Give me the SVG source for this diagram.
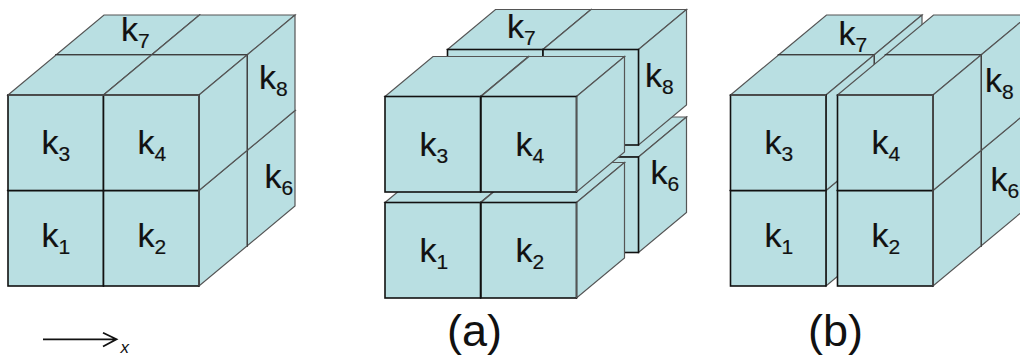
<svg xmlns="http://www.w3.org/2000/svg" xmlns:xlink="http://www.w3.org/1999/xlink" width="1020" height="356" viewBox="0 0 1020 356">
<style>
.s{fill:#b9dfe2;stroke:#555;stroke-width:1.2;stroke-linejoin:miter}
.f{fill:#b9dfe2;stroke:#111;stroke-width:1.6}
.e{fill:none;stroke:#555;stroke-width:1.3}
text{font-family:"Liberation Sans",Arial,sans-serif;fill:#111}
.k{font-size:34px;stroke:#111;stroke-width:.2}
.k tspan{font-size:21px}
.c{font-size:45px}
</style>
<defs>
<g id="cube">
<path class="s" d="M0 0L48 -40H143.5L95.5 0Z"/>
<path class="s" d="M95.5 0L143.5 -40V55.5L95.5 95.5Z"/>
<rect class="f" width="95.5" height="95.5"/>
</g>
</defs>
<rect width="1020" height="356" fill="#fff"/>
<g id="cube-whole">
<use xlink:href="#cube" href="#cube" x="56" y="150.5"/>
<use xlink:href="#cube" href="#cube" x="151.500" y="150.500"/>
<use xlink:href="#cube" href="#cube" x="56" y="55"/>
<use xlink:href="#cube" href="#cube" x="151.500" y="55"/>
<use xlink:href="#cube" href="#cube" x="8" y="190.500"/>
<use xlink:href="#cube" href="#cube" x="103.500" y="190.500"/>
<use xlink:href="#cube" href="#cube" x="8" y="95"/>
<use xlink:href="#cube" href="#cube" x="103.500" y="95"/>
<path class="e" d="M8 95H199V286"/>
<text class="k" x="41.500" y="154">k<tspan dy="7">3</tspan></text>
<text class="k" x="137.500" y="154">k<tspan dy="7">4</tspan></text>
<text class="k" x="41.500" y="247">k<tspan dy="7">1</tspan></text>
<text class="k" x="137.500" y="247">k<tspan dy="7">2</tspan></text>
<text class="k" x="121" y="41">k<tspan dy="7">7</tspan></text>
<text class="k" x="259" y="89">k<tspan dy="7">8</tspan></text>
<text class="k" x="264.500" y="188">k<tspan dy="7">6</tspan></text>
</g>
<g id="cube-a">
<use xlink:href="#cube" href="#cube" x="447.500" y="157"/>
<use xlink:href="#cube" href="#cube" x="543" y="157"/>
<use xlink:href="#cube" href="#cube" x="447.500" y="49.500"/>
<use xlink:href="#cube" href="#cube" x="543" y="49.500"/>
<use xlink:href="#cube" href="#cube" x="385" y="202.500"/>
<use xlink:href="#cube" href="#cube" x="481" y="202.500"/>
<use xlink:href="#cube" href="#cube" x="385" y="96.500"/>
<use xlink:href="#cube" href="#cube" x="481" y="96.500"/>
<path class="e" d="M576.500 96.500V192M576.500 202.500V298"/>
<text class="k" x="419.500" y="155.500">k<tspan dy="7">3</tspan></text>
<text class="k" x="515.500" y="155.500">k<tspan dy="7">4</tspan></text>
<text class="k" x="419.500" y="261.500">k<tspan dy="7">1</tspan></text>
<text class="k" x="515.500" y="261.500">k<tspan dy="7">2</tspan></text>
<text class="k" x="507" y="37.500">k<tspan dy="7">7</tspan></text>
<text class="k" x="645" y="86.500">k<tspan dy="7">8</tspan></text>
<text class="k" x="650.500" y="184">k<tspan dy="7">6</tspan></text>
<text class="c" x="447" y="346">(a)</text>
</g>
<g id="cube-b">
<use xlink:href="#cube" href="#cube" x="778.500" y="150.500"/>
<use xlink:href="#cube" href="#cube" x="885.500" y="150.500"/>
<use xlink:href="#cube" href="#cube" x="778.500" y="55"/>
<use xlink:href="#cube" href="#cube" x="885.500" y="55"/>
<use xlink:href="#cube" href="#cube" x="730.500" y="190.500"/>
<use xlink:href="#cube" href="#cube" x="730.500" y="95"/>
<use xlink:href="#cube" href="#cube" x="837.500" y="190.500"/>
<use xlink:href="#cube" href="#cube" x="837.500" y="95"/>
<path class="e" d="M730.500 95H826M837.500 95H933V286"/>
<text class="k" x="764.500" y="154">k<tspan dy="7">3</tspan></text>
<text class="k" x="871.500" y="154">k<tspan dy="7">4</tspan></text>
<text class="k" x="764.500" y="247">k<tspan dy="7">1</tspan></text>
<text class="k" x="871.500" y="247">k<tspan dy="7">2</tspan></text>
<text class="k" x="838.500" y="45">k<tspan dy="7">7</tspan></text>
<text class="k" x="985" y="91.500">k<tspan dy="7">8</tspan></text>
<text class="k" x="990.500" y="190.500">k<tspan dy="7">6</tspan></text>
<text class="c" x="808" y="346">(b)</text>
</g>
<g id="connectors">
<path d="M43 339.300H116M103 332.700L116.500 339.300L103 346.500" fill="none" stroke="#111" stroke-width="1.800"/>
</g>
<text x="120.500" y="353" font-size="17" font-style="italic">x</text>
</svg>
